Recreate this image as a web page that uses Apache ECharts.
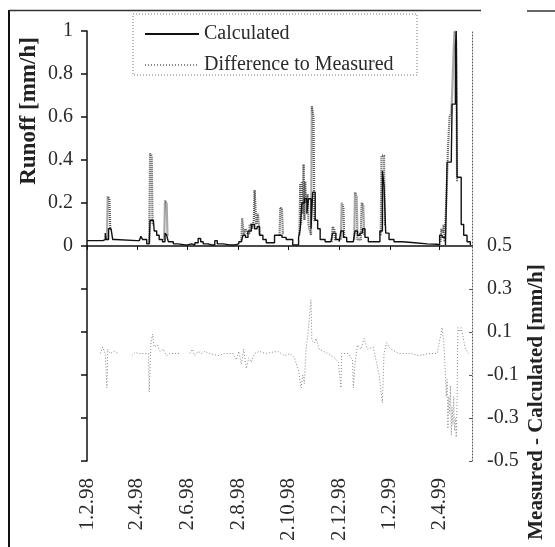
<!DOCTYPE html>
<html>
<head>
<meta charset="utf-8">
<script src="https://cdn.jsdelivr.net/npm/echarts@6/dist/echarts.min.js"></script>
<style>html,body{margin:0;padding:0;background:#fff}#c{width:555px;height:547px}</style>
</head>
<body>
<div id="c"></div>
<script>
// x values are days since 1.2.98
const tickDays = [0, 60, 121, 182, 243, 304, 365, 425];
const tickLabels = ['1.2.98', '2.4.98', '2.6.98', '2.8.98', '2.10.98', '2.12.98', '1.2.99', '2.4.99'];
const xMax = 464;

const runoffTicks = [0, 0.2, 0.4, 0.6, 0.8, 1];
const diffTicks = [-0.5, -0.3, -0.1, 0.1, 0.3, 0.5];

// Calculated runoff [mm/h]
const calcDays = [0,16,19,22,23,25,26,29,31,34,60,63,65,67,72,75,76,80,81,84,87,91,94,96,98,104,110,118,121,126,130,134,137,140,146,150,154,157,164,172,178,183,186,188,191,194,198,202,205,208,212,216,222,226,230,235,240,244,248,252,255,257,259,262,265,267,270,272,275,278,281,287,294,296,300,304,306,309,313,321,323,326,329,332,335,339,350,353,356,358,360,364,370,380,395,410,422,425,428,432,434,439,440,444,445,446,451,454,458,462];
const calcVals = [0.025,0.025,0.03,0.06,0.03,0.03,0.08,0.08,0.03,0.025,0.025,0.03,0.045,0.03,0.01,0.005,0.12,0.12,0.07,0.05,0.03,0.02,0.06,0.05,0.02,0.01,0.005,0.005,0.01,0.005,0.015,0.035,0.02,0.01,0.005,0.005,0.025,0.01,0.005,0.005,0.01,0.02,0.025,0.05,0.04,0.07,0.1,0.08,0.09,0.05,0.03,0.015,0.015,0.05,0.05,0.04,0.03,0.03,0.005,0.005,0.04,0.08,0.2,0.22,0.15,0.22,0.08,0.25,0.12,0.08,0.03,0.02,0.02,0.06,0.03,0.02,0.07,0.04,0.02,0.02,0.07,0.05,0.06,0.08,0.04,0.02,0.02,0.07,0.35,0.28,0.06,0.03,0.02,0.015,0.01,0.008,0.005,0.05,0.04,0.005,0.39,0.39,0.66,0.92,1.0,0.32,0.1,0.05,0.02,0.005];

// Measured runoff peaks (drawn grey in the upper panel), null = gap
const measDays = [24,25,27,28,29, 75,76,78,79,80, 93,94,96,97,98, 186,187,189,191,193,196,199,201,202,204,206,208,209, 232,233,235,236,237, 256,257,258,259,260,261,262,263,264,266,267,268,270,271,273,274,275, 295,296,298,299,300, 306,307,309,310,311, 322,323,325,326,330,331,333,334,335, 354,355,358,359,360, 426,427,429,430,431,433,435,437,439,440,442,443,445,446,447];
const measVals = [0.03,0.23,0.22,0.08,null, 0.01,0.43,0.42,0.1,null, 0.03,0.21,0.2,0.05,null, 0.02,0.13,0.05,0.08,0.06,0.1,0.08,0.12,0.26,0.1,0.15,0.05,null, 0.05,0.18,0.17,0.06,null, 0.05,0.29,0.1,0.3,0.15,0.38,0.12,0.3,0.2,0.24,0.1,0.08,0.05,0.65,0.6,0.12,null, 0.02,0.09,0.08,0.03,null, 0.03,0.2,0.18,0.04,null, 0.03,0.25,0.23,0.03,0.04,0.2,0.19,0.05,null, 0.05,0.42,0.4,0.1,null, 0.02,0.08,0.06,0.1,0.02,0.2,0.45,0.6,0.62,0.7,0.92,1.0,0.95,0.3,null];

// Difference measured - calculated [mm/h], null = gap
const diffDays = [16,19,22,24,25,28,33,38,46,54,58,63,70,74,75,77,79,81,85,88,92,96,100,108,112,118,124,127,130,134,138,142,148,158,166,176,180,183,186,189,192,195,198,202,208,215,222,230,238,245,250,255,258,260,262,264,266,270,271,274,276,280,290,298,303,306,307,315,320,321,323,326,330,334,338,345,352,356,358,361,366,376,390,400,412,422,426,428,430,432,433,434,435,436,437,438,439,440,441,442,443,444,445,446,447,449,451,453,456,460];
const diffVals = [0.0,0.03,0.0,-0.16,0.02,0.0,0.01,0.0,null,-0.01,0.005,0.0,0.0,0.0,-0.18,0.05,0.09,0.03,0.04,0.01,0.02,-0.01,0.0,0.0,0.0,null,0.0,0.02,-0.01,0.01,0.0,0.01,0.0,-0.01,0.0,0.0,-0.03,0.01,-0.05,0.02,-0.07,-0.02,-0.04,0.0,0.01,0.0,0.005,0.01,-0.01,0.0,-0.02,-0.08,-0.16,-0.1,-0.14,0.02,0.08,0.25,0.06,0.05,0.07,0.02,0.0,-0.02,-0.04,-0.16,0.0,0.0,-0.03,-0.16,-0.05,0.04,0.02,0.07,0.02,0.03,-0.1,-0.23,0.0,0.05,0.02,0.0,0.0,-0.01,0.0,0.0,0.08,0.12,0.05,-0.1,-0.2,-0.12,-0.35,-0.2,-0.28,-0.15,-0.38,-0.25,-0.33,-0.2,-0.36,-0.3,-0.39,-0.22,0.12,0.1,0.12,0.08,0.02,0.0];

const pair = (d, v) => d.map((x, i) => [x, v[i]]);
const FONT = 'Liberation Serif';
const TXT = '#2a2a2a';

const chart = echarts.init(document.getElementById('c'), null, {renderer: 'canvas'});
chart.setOption({
  animation: false,
  backgroundColor: '#fff',
  grid: [
    {left: 87, width: 385, top: 31, height: 215},
    {left: 87, width: 385, top: 246, height: 215}
  ],
  legend: {
    orient: 'vertical', left: 139, top: 19, itemWidth: 54, itemHeight: 14, itemGap: 11,
    itemStyle: {opacity: 0},
    textStyle: {fontFamily: FONT, fontSize: 20, color: TXT},
    data: ['Calculated', 'Difference to Measured']
  },
  xAxis: [
    {gridIndex: 0, type: 'value', min: 0, max: xMax,
     axisLine: {lineStyle: {color: '#111', width: 1.5}},
     axisTick: {show: true, length: 4, customValues: tickDays, lineStyle: {color: '#111'}},
     axisLabel: {show: false}, splitLine: {show: false}},
    {gridIndex: 1, type: 'value', min: 0, max: xMax,
     axisLine: {show: false}, axisTick: {show: false}, splitLine: {show: false},
     axisLabel: {show: true, customValues: tickDays, rotate: 90, margin: 17,
       fontFamily: FONT, fontSize: 21, color: TXT,
       formatter: v => { const i = tickDays.indexOf(Math.round(v)); return i >= 0 ? tickLabels[i] : ''; }}}
  ],
  yAxis: [
    {gridIndex: 0, type: 'value', min: 0, max: 1, position: 'left',
     axisLine: {show: true, lineStyle: {color: '#111', width: 1.5}},
     axisTick: {show: true, length: 6, customValues: runoffTicks, lineStyle: {color: '#111', width: 1.5}},
     axisLabel: {customValues: runoffTicks, margin: 14, fontFamily: FONT, fontSize: 20, color: TXT},
     splitLine: {show: false}},
    {gridIndex: 0, type: 'value', min: 0, max: 1, position: 'right',
     axisLine: {show: true, lineStyle: {color: '#555', width: 1, type: [1, 2]}},
     axisTick: {show: false}, axisLabel: {show: false}, splitLine: {show: false}},
    {gridIndex: 1, type: 'value', min: -0.5, max: 0.5, position: 'left',
     axisLine: {show: true, lineStyle: {color: '#111', width: 1.5}},
     axisTick: {show: true, length: 6, customValues: diffTicks, lineStyle: {color: '#111', width: 1.5}},
     axisLabel: {show: false}, splitLine: {show: false}},
    {gridIndex: 1, type: 'value', min: -0.5, max: 0.5, position: 'right',
     axisLine: {show: true, lineStyle: {color: '#555', width: 1, type: [1, 2]}},
     axisTick: {show: true, inside: true, length: 3, customValues: diffTicks, lineStyle: {color: '#555'}},
     axisLabel: {customValues: diffTicks, margin: 15, fontFamily: FONT, fontSize: 20, color: TXT,
       formatter: v => String(Math.round(v * 10) / 10)},
     splitLine: {show: false}}
  ],
  series: [
    {name: 'Measured', type: 'line', xAxisIndex: 0, yAxisIndex: 0, symbol: 'none',
     connectNulls: false, z: 2, step: 'end',
     itemStyle: {color: '#555'},
     lineStyle: {color: '#555', width: 2.2, type: [1, 1]},
     data: pair(measDays, measVals)},
    {name: 'Calculated', type: 'line', xAxisIndex: 0, yAxisIndex: 0, symbol: 'none', z: 3, step: 'end',
     itemStyle: {color: '#111'},
     lineStyle: {color: '#111', width: 1.4},
     data: pair(calcDays, calcVals)},
    {name: 'Difference to Measured', type: 'line', xAxisIndex: 1, yAxisIndex: 3, symbol: 'none',
     connectNulls: false, z: 2,
     itemStyle: {color: '#888'},
     lineStyle: {color: '#888', width: 1, type: [1, 2]},
     data: pair(diffDays, diffVals)}
  ],
  graphic: [
    {type: 'rect', shape: {x: 133, y: 14, width: 284, height: 61}, silent: true,
     style: {fill: 'none', stroke: '#777', lineWidth: 1, lineDash: [1, 2]}},
    {type: 'line', shape: {x1: 9, y1: 10, x2: 9, y2: 547}, style: {stroke: '#111', lineWidth: 2}},
    {type: 'line', shape: {x1: 9, y1: 10.5, x2: 481, y2: 10.5}, style: {stroke: '#333', lineWidth: 1.5}},
    {type: 'line', shape: {x1: 527, y1: 11, x2: 555, y2: 11}, style: {stroke: '#333', lineWidth: 1.5}},
    {type: 'text', x: 29, y: 111, rotation: Math.PI / 2,
     style: {text: 'Runoff [mm/h]', font: 'bold 23px "Liberation Serif"', fill: '#222', align: 'center', verticalAlign: 'middle'}},
    {type: 'text', x: 537, y: 402, rotation: Math.PI / 2,
     style: {text: 'Measured - Calculated [mm/h]', font: 'bold 21px "Liberation Serif"', fill: '#222', align: 'center', verticalAlign: 'middle'}}
  ]
});
</script>
</body>
</html>
